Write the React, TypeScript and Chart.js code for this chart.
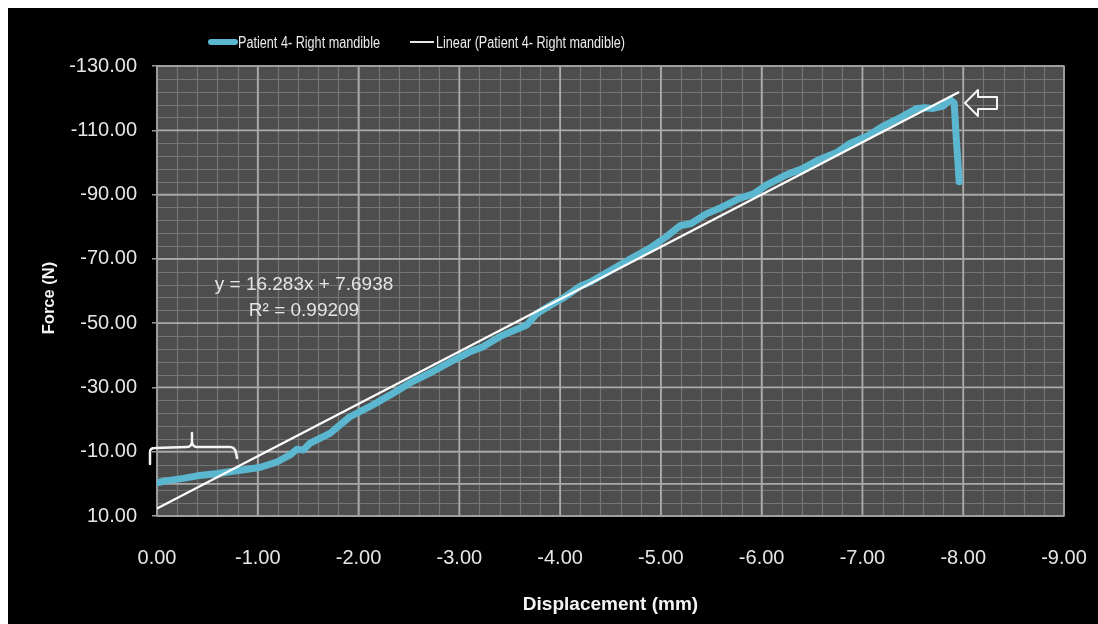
import React, { useEffect, useRef } from "react";
import { Chart, registerables } from "chart.js";

Chart.register(...registerables);

// ---- data ----
const seriesLabel = "Patient 4- Right mandible";
const trendLabel = "Linear (Patient 4- Right mandible)";

const displacement = [
  0, -0.1, -0.26, -0.4, -0.6, -0.79, -1.02, -1.19, -1.32, -1.39, -1.45, -1.52,
  -1.72, -1.91, -2.11, -2.31, -2.51, -2.71, -2.91, -3.1, -3.23, -3.4, -3.5,
  -3.67, -3.77, -3.9, -4.03, -4.2, -4.3, -4.49, -4.7, -4.9, -5.05, -5.19, -5.3,
  -5.45, -5.6, -5.78, -5.92, -6.05, -6.25, -6.4, -6.58, -6.75, -6.88, -7.05,
  -7.2, -7.38, -7.54, -7.62, -7.7, -7.8, -7.87, -7.91, -7.93, -7.96,
];
const force = [
  -0.3, -1.0, -1.7, -2.5, -3.2, -4.1, -5.1, -6.8, -9.0, -10.8, -10.5, -12.7,
  -15.8, -20.8, -24.0, -27.6, -31.4, -34.5, -37.9, -41.0, -42.6, -45.8, -47.2,
  -49.4, -53.0, -55.5, -57.8, -61.5, -62.8, -66.2, -70.0, -73.5, -76.8, -80.3,
  -81.0, -84.0, -86.0, -88.8, -90.2, -93.0, -96.2, -98.0, -101.0, -103.2,
  -106.0, -108.2, -111.2, -114.0, -116.8, -117.0, -116.8, -117.5, -119.5,
  -118.5, -108.0, -94.0,
];

// trendline as printed on the chart
const trendSlope = 16.283;
const trendIntercept = 7.6938;
const trendX = [0, -7.96];
const equationText = "y = 16.283x + 7.6938";
const r2Text = "R\u00B2 = 0.99209";

const xTicks = [0, -1, -2, -3, -4, -5, -6, -7, -8, -9];
const yTicks = [-130, -110, -90, -70, -50, -30, -10, 10];
const xMinorStep = 0.2;
const yMinorStep = 4;

const xTitle = "Displacement (mm)";
const yTitle = "Force (N)";

const BLUE = "#5bb7cf";
const TICK_FONT = "'Liberation Sans', Arial, sans-serif";

function fitText(ctx: any, text: string, x: number, y: number, width: number) {
  const w = ctx.measureText(text).width;
  ctx.save();
  ctx.translate(x, y);
  ctx.scale(width / w, 1);
  ctx.fillText(text, 0, 0);
  ctx.restore();
}

const decorPlugin = {
  id: "decor",
  beforeDatasetsDraw(chart: any) {
    const { ctx, chartArea: a, scales } = chart;
    const xs = scales.x;
    const ys = scales.y;
    ctx.save();
    ctx.fillStyle = "#4d4d4d";
    ctx.fillRect(a.left, a.top, a.right - a.left, a.bottom - a.top);
    // minor grid
    ctx.strokeStyle = "#747474";
    ctx.lineWidth = 1.2;
    ctx.beginPath();
    for (let v = 0; v >= -9 + 1e-9; v -= xMinorStep) {
      const px = Math.round(xs.getPixelForValue(v)) + 0.5;
      ctx.moveTo(px, a.top);
      ctx.lineTo(px, a.bottom);
    }
    for (let v = -130; v <= 10 + 1e-9; v += yMinorStep) {
      const py = Math.round(ys.getPixelForValue(v)) + 0.5;
      ctx.moveTo(a.left, py);
      ctx.lineTo(a.right, py);
    }
    ctx.stroke();
    // major grid
    ctx.strokeStyle = "#aaaaaa";
    ctx.lineWidth = 1.8;
    ctx.beginPath();
    xTicks.forEach((v) => {
      const px = xs.getPixelForValue(v);
      ctx.moveTo(px, a.top);
      ctx.lineTo(px, a.bottom);
    });
    yTicks.forEach((v) => {
      const py = ys.getPixelForValue(v);
      ctx.moveTo(a.left, py);
      ctx.lineTo(a.right, py);
    });
    // horizontal axis crossing at 0
    const p0 = ys.getPixelForValue(0);
    ctx.moveTo(a.left, p0);
    ctx.lineTo(a.right, p0);
    ctx.stroke();
    ctx.strokeStyle = "#9a9a9a";
    ctx.lineWidth = 1.5;
    ctx.strokeRect(a.left, a.top, a.right - a.left, a.bottom - a.top);
    ctx.restore();
  },
  afterDraw(chart: any) {
    const { ctx, chartArea: a } = chart;
    ctx.save();
    // legend
    ctx.lineCap = "round";
    ctx.strokeStyle = BLUE;
    ctx.lineWidth = 6;
    ctx.beginPath();
    ctx.moveTo(203, 34);
    ctx.lineTo(227, 34);
    ctx.stroke();
    ctx.strokeStyle = "#e6e6e6";
    ctx.lineWidth = 2;
    ctx.lineCap = "butt";
    ctx.beginPath();
    ctx.moveTo(402, 34);
    ctx.lineTo(426, 34);
    ctx.stroke();
    ctx.fillStyle = "#ececec";
    ctx.font = `16px ${TICK_FONT}`;
    ctx.textAlign = "left";
    ctx.textBaseline = "middle";
    fitText(ctx, seriesLabel, 230, 36, 142);
    fitText(ctx, trendLabel, 428, 36, 189);

    // equation
    ctx.font = `19px ${TICK_FONT}`;
    ctx.textAlign = "center";
    ctx.fillStyle = "#e4e4e4";
    ctx.fillText(equationText, 296, 277);
    ctx.fillText(r2Text, 296, 303);

    // axis titles
    ctx.fillStyle = "#f4f4f4";
    ctx.font = `bold 19px ${TICK_FONT}`;
    ctx.fillText(xTitle, (a.left + a.right) / 2, 597);
    ctx.save();
    ctx.font = `bold 16.5px ${TICK_FONT}`;
    ctx.translate(41, 290);
    ctx.rotate(-Math.PI / 2);
    ctx.fillText(yTitle, 0, 0);
    ctx.restore();

    // bracket annotation
    ctx.strokeStyle = "#f4f4f4";
    ctx.lineWidth = 2.5;
    ctx.lineCap = "round";
    ctx.lineJoin = "round";
    ctx.beginPath();
    ctx.moveTo(142, 456);
    ctx.lineTo(142, 444);
    ctx.quadraticCurveTo(142, 440, 147, 440);
    ctx.lineTo(179, 439);
    ctx.quadraticCurveTo(184, 439, 184, 433);
    ctx.lineTo(184, 425);
    ctx.moveTo(184, 433);
    ctx.quadraticCurveTo(184, 439, 189, 439);
    ctx.lineTo(222, 439);
    ctx.quadraticCurveTo(227, 439, 228, 445);
    ctx.lineTo(229, 450);
    ctx.stroke();

    // arrow annotation
    ctx.lineWidth = 2;
    ctx.beginPath();
    ctx.moveTo(957, 95);
    ctx.lineTo(970, 82);
    ctx.lineTo(970, 89);
    ctx.lineTo(989, 89);
    ctx.lineTo(989, 101);
    ctx.lineTo(970, 101);
    ctx.lineTo(970, 108);
    ctx.closePath();
    ctx.stroke();
    ctx.restore();
  },
};

export default function App() {
  const ref = useRef<HTMLCanvasElement | null>(null);
  useEffect(() => {
    if (!ref.current) return;
    const points = displacement.map((x, i) => ({ x, y: force[i] }));
    const trendPoints = trendX.map((x) => ({ x, y: trendSlope * x + trendIntercept }));
    const chart = new Chart(ref.current, {
      type: "scatter",
      data: {
        datasets: [
          {
            label: seriesLabel,
            data: points,
            showLine: true,
            borderColor: BLUE,
            backgroundColor: BLUE,
            borderWidth: 7,
            borderCapStyle: "round",
            borderJoinStyle: "round",
            pointRadius: 0,
            order: 1,
          } as any,
          {
            label: trendLabel,
            data: trendPoints,
            showLine: true,
            borderColor: "#ffffff",
            backgroundColor: "#ffffff",
            borderWidth: 2.2,
            pointRadius: 0,
            order: 0,
          } as any,
        ],
      },
      options: {
        animation: false,
        responsive: false,
        devicePixelRatio: 1,
        layout: { padding: { top: 58, right: 34, left: 0, bottom: 0 } },
        plugins: {
          legend: { display: false },
          tooltip: { enabled: false },
        },
        scales: {
          x: {
            type: "linear",
            min: -9,
            max: 0,
            reverse: true,
            border: { display: false },
            grid: { display: false },
            afterBuildTicks: (s: any) => {
              s.ticks = xTicks.map((value) => ({ value }));
            },
            afterFit: (s: any) => {
              s.height = 108;
              s.paddingLeft = 0;
              s.paddingRight = 0;
            },
            ticks: {
              color: "#e6e6e6",
              font: { size: 20, family: TICK_FONT },
              padding: 22,
              maxRotation: 0,
              autoSkip: false,
              callback: (v: any) => Number(v).toFixed(2),
            },
          },
          y: {
            type: "linear",
            min: -130,
            max: 10,
            reverse: true,
            border: { display: false },
            grid: {
              display: true,
              drawOnChartArea: false,
              drawTicks: true,
              tickLength: 5,
              color: "#9a9a9a",
              lineWidth: 1.5,
            },
            afterBuildTicks: (s: any) => {
              s.ticks = yTicks.map((value) => ({ value }));
            },
            afterFit: (s: any) => {
              s.width = 149;
            },
            ticks: {
              color: "#e6e6e6",
              font: { size: 20, family: TICK_FONT },
              padding: 15,
              autoSkip: false,
              callback: (v: any) => Number(v).toFixed(2),
            },
          },
        },
      },
      plugins: [decorPlugin],
    } as any);
    return () => chart.destroy();
  }, []);

  return (
    <div
      style={{
        position: "fixed",
        left: 8,
        top: 8,
        width: 1090,
        height: 616,
        background: "#000",
      }}
    >
      <canvas ref={ref} width={1090} height={616} style={{ display: "block" }} />
    </div>
  );
}
